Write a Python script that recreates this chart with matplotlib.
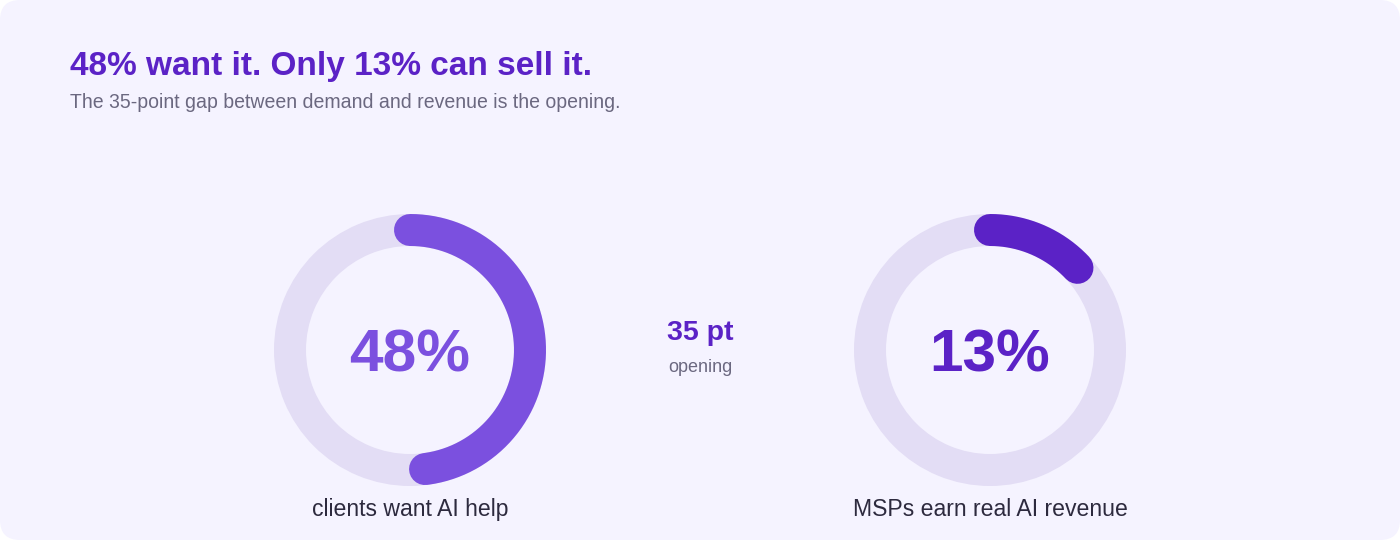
import numpy as np
import matplotlib.pyplot as plt
from matplotlib.patches import FancyBboxPatch, Wedge

plt.rcParams['font.family'] = ['Liberation Sans', 'DejaVu Sans']

# data
values = [48, 13]
labels = ["clients want AI help", "MSPs earn real AI revenue"]
arc_colors = ["#7b50df", "#5b22c6"]
gap_value = values[0] - values[1]

title = "48% want it. Only 13% can sell it."
subtitle = "The 35-point gap between demand and revenue is the opening."

W, H = 1400, 540
fig = plt.figure(figsize=(14, 5.4), dpi=100, facecolor="white")
ax = fig.add_axes([0, 0, 1, 1])
ax.set_xlim(0, W)
ax.set_ylim(H, 0)
ax.set_aspect("equal")
ax.axis("off")

bg = FancyBboxPatch((0, 0), W, H, boxstyle="round,pad=0,rounding_size=20",
                    facecolor="#f5f3ff", edgecolor="none")
ax.add_patch(bg)

ax.text(70, 75, title, fontsize=24, fontweight="bold", color="#5b22c6", va="baseline")
ax.text(70, 108, subtitle, fontsize=14.05, color="#6b6880", va="baseline")

centers = [410, 990]
cy = 350
r_out, ring = 136, 32
px_to_pt = 72 / 100

for cx, v, lab, col in zip(centers, values, labels, arc_colors):
    ax.add_patch(Wedge((cx, cy), r_out, 0, 360, width=ring,
                       facecolor="#e3ddf5", edgecolor="none"))
    r_mid = r_out - ring / 2
    ang = np.radians(90 - np.linspace(0, 360 * v / 100, 200))
    ax.plot(cx + r_mid * np.cos(ang), cy - r_mid * np.sin(ang), color=col,
            lw=ring * px_to_pt, solid_capstyle="round")
    ax.text(cx, 371, f"{v}%", fontsize=43.5, fontweight="bold", color=col,
            ha="center", va="baseline")
    ax.text(cx, 516, lab, fontsize=16.6, color="#2d2a3e", ha="center", va="baseline")

ax.text(700, 340, f"{gap_value} pt", fontsize=20.5, fontweight="bold", color="#5b22c6",
        ha="center", va="baseline")
ax.text(700, 372, "opening", fontsize=13, color="#6b6880", ha="center", va="baseline")

fig.savefig("out.png", dpi=100, facecolor="white")
